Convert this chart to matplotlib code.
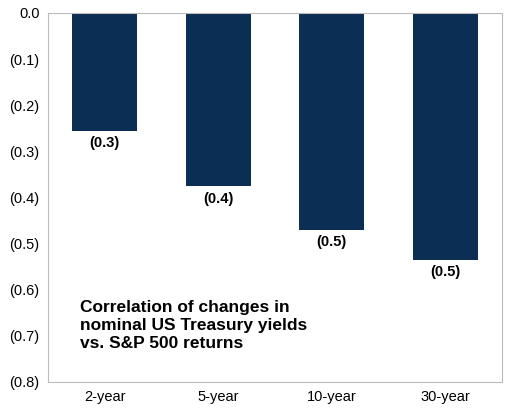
import matplotlib
matplotlib.use("Agg")
import matplotlib.pyplot as plt
from matplotlib.ticker import FuncFormatter

categories = ["2-year", "5-year", "10-year", "30-year"]
values = [-0.255, -0.376, -0.47, -0.535]
bar_labels = ["(0.3)", "(0.4)", "(0.5)", "(0.5)"]

plt.rcParams['font.family'] = ['Liberation Sans', 'DejaVu Sans']
fig = plt.figure(figsize=(5.14, 4.17), dpi=100)
ax = fig.add_axes([0.093, 0.084, 0.884, 0.885])
x = range(len(categories))
ax.bar(x, values, width=0.57, color="#0B2E55")
for xi, v, lab in zip(x, values, bar_labels):
    ax.text(xi, v - 0.012, lab, ha="center", va="top", fontsize=10.5, fontweight="bold")
ax.set_ylim(-0.8, 0)
ax.set_xlim(-0.5, 3.5)
ax.set_yticks([-0.1 * i for i in range(9)])
ax.yaxis.set_major_formatter(FuncFormatter(lambda v, p: "0.0" if abs(v) < 1e-9 else f"({abs(v):.1f})"))
ax.set_xticks(list(x))
ax.set_xticklabels(categories)
ax.tick_params(length=0, labelsize=10.5, pad=6)
for s in ax.spines.values():
    s.set_color("#BBBBBB")
ax.text(0.07, 0.152, "Correlation of changes in\nnominal US Treasury yields\nvs. S&P 500 returns",
        transform=ax.transAxes, fontsize=12.5, fontweight="bold", va="center", ha="left", linespacing=1.25)
fig.savefig("out.png", dpi=100)
